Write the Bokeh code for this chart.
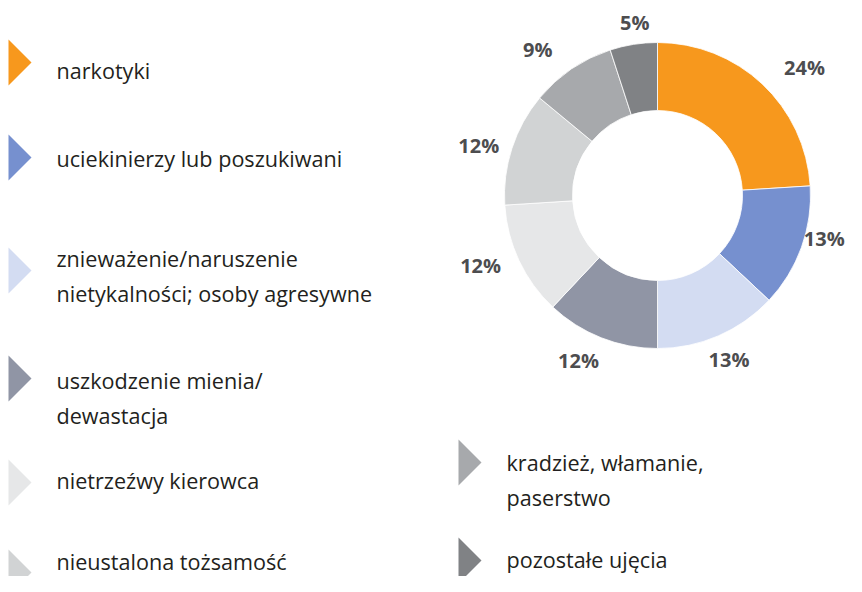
import math
from bokeh.plotting import figure
from bokeh.models import Range1d, ColumnDataSource
from bokeh.core.properties import value
from bokeh.embed import file_html
from bokeh.resources import INLINE

# ---- data ----
categories = [
    "narkotyki",
    "uciekinierzy lub poszukiwani",
    "znieważenie/naruszenie\nnietykalności; osoby agresywne",
    "uszkodzenie mienia/\ndewastacja",
    "nietrzeźwy kierowca",
    "nieustalona tożsamość",
    "kradzież, włamanie,\npaserstwo",
    "pozostałe ujęcia",
]
values = [24, 13, 13, 12, 12, 12, 9, 5]
colors = ["#F7981D", "#7690CF", "#D3DCF2", "#9095A5",
          "#E6E7E8", "#D1D3D4", "#A7A9AC", "#808285"]

# ---- layout (screen pixels, y down) ----
W, H = 846, 576
CX, CY = 657, 195
R_OUT, R_IN = 153, 85
R_LABEL = 190
label_nudge = [(17, -11), (-12, 21), (-4, 10), (-9, 12), (-5, 11), (2, -9), (-13, -11), (7, -15)]
legend_x = [8, 8, 8, 8, 8, 8, 458, 458]
legend_tri_y = [62, 157, 270, 378, 482, 572, 462, 560]
legend_baseline = [70, 158, 258, 380, 480, 561, 462, 559]
LINE_GAP = 35
TRI_W, TRI_H = 23, 46
TEXT_DX = 48


def Y(sy):
    return H - sy


p = figure(width=W, height=H, x_range=Range1d(0, W), y_range=Range1d(0, H),
           output_backend="svg", toolbar_location=None,
           x_axis_location=None, y_axis_location=None, min_border=0)
p.grid.visible = False
p.outline_line_color = None
p.background_fill_color = "white"

total = float(sum(values))
starts, ends, lx, ly, labels = [], [], [], [], []
cum = 0.0
for i, v in enumerate(values):
    a0 = math.pi / 2 - 2 * math.pi * cum / total
    a1 = math.pi / 2 - 2 * math.pi * (cum + v) / total
    mid = (a0 + a1) / 2
    starts.append(a0)
    ends.append(a1)
    dx, dy = label_nudge[i]
    lx.append(CX + R_LABEL * math.cos(mid) + dx)
    ly.append(Y(CY) + R_LABEL * math.sin(mid) + dy)
    labels.append(f"{v}%")
    cum += v

src = ColumnDataSource(dict(start=starts, end=ends, color=colors))
p.annular_wedge(x=CX, y=Y(CY), inner_radius=R_IN, outer_radius=R_OUT,
                start_angle="start", end_angle="end", direction="clock",
                fill_color="color", line_color="white", line_width=0.8, source=src)

p.text(x=lx, y=ly, text=labels, text_align="center", text_baseline="middle",
       text_font=value("Open Sans"), text_font_style="bold", text_font_size="20px",
       text_color="#4D4D4F")

# legend triangles
xs, ys = [], []
for i in range(len(categories)):
    x0 = legend_x[i]
    yc = legend_tri_y[i]
    xs.append([x0, x0 + TRI_W, x0])
    ys.append([Y(yc - TRI_H / 2), Y(yc), Y(yc + TRI_H / 2)])
p.patches(xs, ys, fill_color=colors, line_color=None)

tx, ty, tt = [], [], []
for i, c in enumerate(categories):
    for j, line in enumerate(c.split("\n")):
        tx.append(legend_x[i] + TEXT_DX)
        ty.append(Y(legend_baseline[i] + j * LINE_GAP))
        tt.append(line)
p.text(x=tx, y=ty, text=tt, text_align="left", text_baseline="alphabetic",
       text_font=value("Open Sans"), text_font_size="21.6px", text_color="#231F20")

open("out.html", "w").write(file_html(p, INLINE))
